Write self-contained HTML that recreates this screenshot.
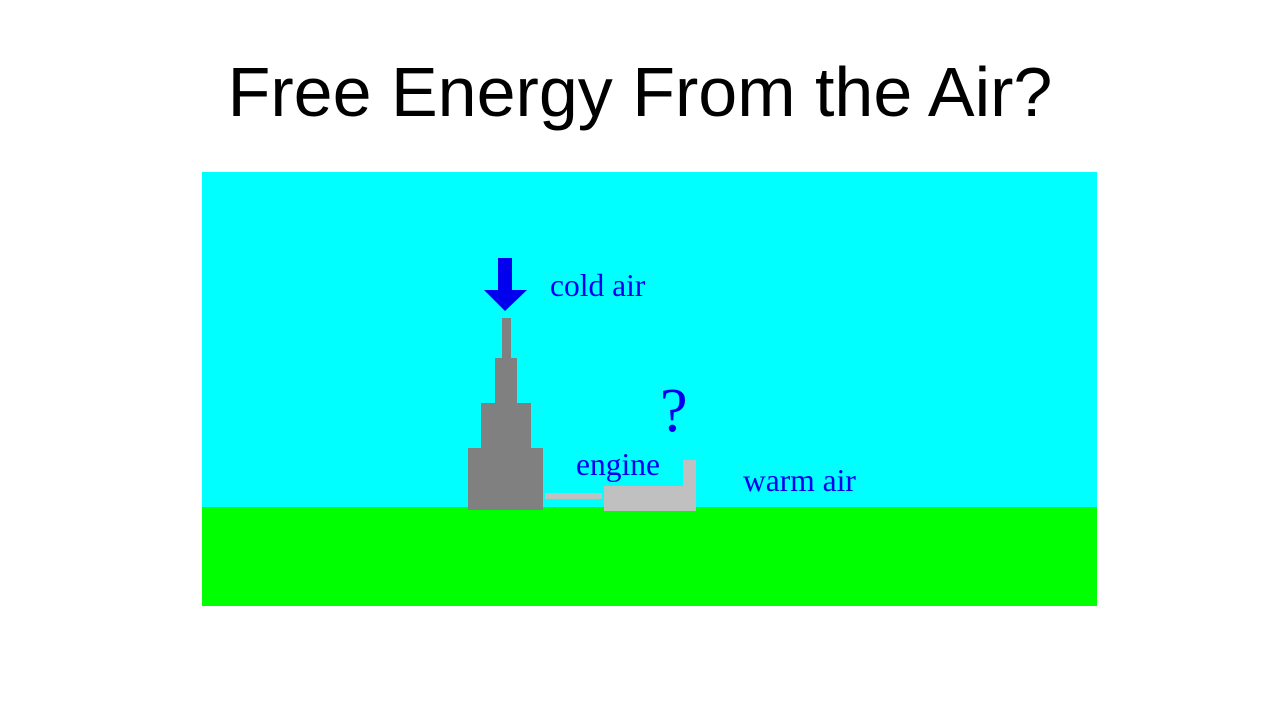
<!DOCTYPE html>
<html><head><style>
body{margin:0;width:1280px;height:720px;background:#fff;position:relative;overflow:hidden;font-family:"Liberation Serif",serif}
div{position:absolute}
.t{font-family:"Liberation Sans",sans-serif;font-size:70px;color:#000;left:0;width:1280px;text-align:center;top:52px}
.g{background:#808080}.l{background:#c0c0c0}
.b{color:#0000ee;font-size:31.5px}
</style></head><body>
<div class="t">Free Energy From the Air?</div>
<div style="left:202px;top:172px;width:895px;height:336px;background:#00ffff"></div>
<div style="left:202px;top:507px;width:895px;height:99px;background:#00ff00"></div>
<div class="g" style="left:468px;top:448px;width:75px;height:62px"></div>
<div class="g" style="left:481px;top:403px;width:50px;height:47px"></div>
<div class="g" style="left:495px;top:358px;width:22px;height:47px"></div>
<div class="g" style="left:502px;top:318px;width:9px;height:42px"></div>
<div class="l" style="left:545px;top:493px;width:57px;height:6px"></div>
<div class="l" style="left:604px;top:486px;width:92px;height:25px"></div>
<div class="l" style="left:683px;top:460px;width:13px;height:28px"></div>
<svg style="position:absolute;left:0;top:0" width="1280" height="720"><polygon points="498,258 512,258 512,290 527,290 505,311 484,290 498,290" fill="#0000ee"/></svg>
<div class="b" style="left:550px;top:268px">cold air</div>
<div class="b" style="left:576px;top:447px">engine</div>
<div class="b" style="left:743px;top:463px">warm air</div>
<div class="b" style="left:660px;top:380px;font-size:62px;line-height:1">?</div>
</body></html>
